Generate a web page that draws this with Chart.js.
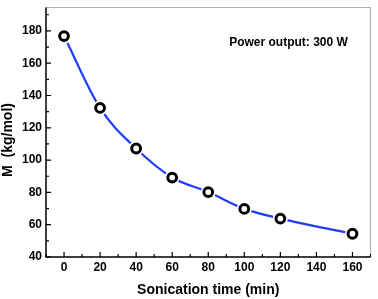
<!DOCTYPE html>
<html>
<head>
<meta charset="utf-8">
<script src="https://cdn.jsdelivr.net/npm/chart.js@4"></script>
<style>
html,body{margin:0;padding:0;background:#fff;}
#wrap{width:378px;height:299px;}
</style>
</head>
<body>
<div id="wrap"><canvas id="c" width="378" height="299"></canvas></div>
<script>
const times = [0, 20, 40, 60, 80, 100, 120, 160];
const molWeight = [176.8, 132.3, 107.2, 89.2, 80.2, 69.8, 63.8, 54.4];
const xMajorTicks = [0, 20, 40, 60, 80, 100, 120, 140, 160];
const xMinorTicks = [-10, 10, 30, 50, 70, 90, 110, 130, 150, 170];
const yMajorTicks = [40, 60, 80, 100, 120, 140, 160, 180];
const yMinorTicks = [50, 70, 90, 110, 130, 150, 170, 190];
const xTitle = 'Sonication time (min)';
const yTitle = 'M  (kg/mol)';
const note = 'Power output: 300 W';

const pts = times.map((t, i) => ({x: t, y: molWeight[i]}));
const FONT = '"Liberation Sans", Arial, sans-serif';

const axesPlugin = {
  id: 'axesPlugin',
  afterDraw(chart) {
    const ctx = chart.ctx;
    const xs = chart.scales.x, ys = chart.scales.y;
    const a = chart.chartArea;
    ctx.save();
    ctx.strokeStyle = '#b0b0b0';
    ctx.lineWidth = 1.2;
    ctx.beginPath();
    ctx.moveTo(a.left, a.top); ctx.lineTo(a.right, a.top); ctx.lineTo(a.right, a.bottom);
    ctx.stroke();
    ctx.strokeStyle = '#000';
    ctx.lineWidth = 1.5;
    ctx.beginPath();
    ctx.moveTo(a.left, a.top); ctx.lineTo(a.left, a.bottom); ctx.lineTo(a.right, a.bottom);
    ctx.stroke();
    ctx.lineWidth = 1.2;
    ctx.beginPath();
    xMajorTicks.forEach(v => { const p = xs.getPixelForValue(v); ctx.moveTo(p, a.bottom); ctx.lineTo(p, a.bottom - 5); });
    xMinorTicks.forEach(v => { const p = xs.getPixelForValue(v); ctx.moveTo(p, a.bottom); ctx.lineTo(p, a.bottom - 3); });
    yMajorTicks.forEach(v => { const p = ys.getPixelForValue(v); ctx.moveTo(a.left, p); ctx.lineTo(a.left + 5, p); });
    yMinorTicks.forEach(v => { const p = ys.getPixelForValue(v); ctx.moveTo(a.left, p); ctx.lineTo(a.left + 3, p); });
    ctx.stroke();
    ctx.fillStyle = '#000';
    ctx.font = 'bold 12px ' + FONT;
    ctx.textAlign = 'center'; ctx.textBaseline = 'middle';
    xMajorTicks.forEach(v => ctx.fillText(String(v), xs.getPixelForValue(v), a.bottom + 11));
    ctx.textAlign = 'right';
    yMajorTicks.forEach(v => ctx.fillText(String(v), a.left - 4, ys.getPixelForValue(v)));
    ctx.font = 'bold 14px ' + FONT;
    ctx.textAlign = 'center';
    ctx.fillText(xTitle, (a.left + a.right) / 2, 290);
    ctx.save();
    ctx.translate(8, 140);
    ctx.rotate(-Math.PI / 2);
    ctx.fillText(yTitle, 0, 0);
    ctx.restore();
    ctx.font = 'bold 12px ' + FONT;
    ctx.fillText(note, 288.5, 43);
    ctx.restore();
  }
};

new Chart(document.getElementById('c'), {
  type: 'scatter',
  data: {
    datasets: [
      {data: pts, showLine: true, borderColor: '#1f3cff', borderWidth: 2.2, pointRadius: 0,
       cubicInterpolationMode: 'monotone', order: 3},
      {data: pts, showLine: false, pointRadius: 7.5, pointBackgroundColor: '#fff', pointBorderWidth: 0,
       pointBorderColor: '#fff', order: 2},
      {data: pts, showLine: false, pointRadius: 4.4, pointBackgroundColor: '#fff', pointBorderColor: '#000',
       pointBorderWidth: 3, order: 1}
    ]
  },
  options: {
    responsive: false,
    animation: false,
    layout: {padding: {top: 2, right: 2, left: 0, bottom: 0}},
    plugins: {legend: {display: false}, tooltip: {enabled: false}},
    scales: {
      x: {type: 'linear', min: -10, max: 170, grid: {display: false}, border: {display: false},
          ticks: {display: false},
          afterFit(s) { s.height = 42; }},
      y: {type: 'linear', min: 40, max: 194.5, grid: {display: false}, border: {display: false},
          ticks: {display: false},
          afterFit(s) { s.width = 46; }}
    }
  },
  plugins: [axesPlugin]
});
</script>
</body>
</html>
